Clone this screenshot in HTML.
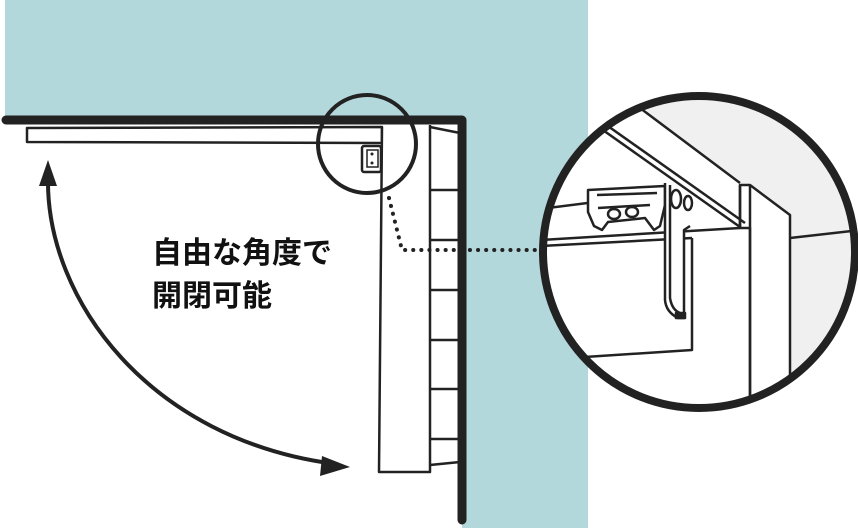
<!DOCTYPE html>
<html><head><meta charset="utf-8"><style>
html,body{margin:0;padding:0;background:#fff;}
svg{display:block;}
</style></head><body>
<svg width="858" height="528" viewBox="0 0 858 528" xmlns="http://www.w3.org/2000/svg">
<defs>
<clipPath id="cc"><circle cx="699" cy="252" r="156"/></clipPath>
</defs>
<rect x="5" y="0" width="583" height="118" fill="#b3d8db"/>
<rect x="462" y="0" width="126" height="528" fill="#b3d8db"/>
<polygon points="27,128 382,127 382,143 27,142" fill="#fff" stroke="#222" stroke-width="2.5" stroke-linejoin="round"/>
<polygon points="382,127 430,125 458,132 458,470 430,472 379,472" fill="#fff" stroke="none"/>
<path d="M382,127 L379,472 L430,472 L430,125" fill="none" stroke="#222" stroke-width="2.5" stroke-linejoin="round"/>
<g stroke="#222" stroke-width="2.5">
<line x1="430" y1="127" x2="460" y2="133"/>
<line x1="430" y1="190" x2="460" y2="190"/>
<line x1="430" y1="240" x2="460" y2="240"/>
<line x1="430" y1="290" x2="460" y2="290"/>
<line x1="430" y1="340" x2="460" y2="340"/>
<line x1="430" y1="389" x2="460" y2="389"/>
<line x1="430" y1="439" x2="460" y2="439"/>
<line x1="430" y1="465" x2="460" y2="462"/>
</g>
<rect x="362" y="146" width="19" height="26" rx="2" fill="#fff" stroke="#222" stroke-width="2.5"/>
<rect x="367" y="150" width="11" height="17" fill="none" stroke="#222" stroke-width="1.5"/>
<circle cx="372" cy="154" r="1.5" fill="#222"/><circle cx="372" cy="163" r="1.5" fill="#222"/>
<path d="M6,120 L462,120 L462,520" fill="none" stroke="#222" stroke-width="9" stroke-linecap="round" stroke-linejoin="round"/>
<circle cx="367" cy="144" r="49" fill="none" stroke="#222" stroke-width="4"/>
<path d="M389,198 L402,250 L540,250" fill="none" stroke="#222" stroke-width="4" stroke-dasharray="0.1 8" stroke-linecap="round"/>
<path d="M48,178 C46,300 150,440 335,464" fill="none" stroke="#222" stroke-width="4"/>
<polygon points="48,160 39,186 57,186" fill="#222"/>
<polygon points="350,467 322,456 320,476" fill="#222"/>
<text x="152" y="263" font-family="'Liberation Sans','Noto Sans CJK JP',sans-serif" font-size="30" font-weight="bold" fill="#111">自由な角度で</text>
<text x="152" y="306" font-family="'Liberation Sans','Noto Sans CJK JP',sans-serif" font-size="30" font-weight="bold" fill="#111">開閉可能</text>
<circle cx="699" cy="252" r="156" fill="#fff"/>
<g clip-path="url(#cc)" stroke="#222" stroke-width="2.5" fill="none" stroke-linejoin="round">
<polygon points="647,90 647,113 740,183 750,185 790,215 790,420 880,420 880,90" fill="#f0f0f0" stroke="none"/>
<line x1="640" y1="108" x2="740" y2="183"/>
<line x1="790" y1="238" x2="860" y2="230"/>
<polygon points="740,185 750,185 790,215 790,420 750,420 750,228 740,228" fill="#fff"/>
<line x1="750" y1="185" x2="750" y2="420"/>
<line x1="740" y1="185" x2="740" y2="228"/>
<polygon points="540,248 540,208 667,193 740,228 692,240 692,350 590,357 540,360" fill="#fff" stroke="none"/>
<line x1="540" y1="209" x2="667" y2="193"/>
<line x1="600" y1="128" x2="740" y2="227"/>
<line x1="605" y1="124" x2="745" y2="223"/>
<line x1="540" y1="240" x2="740" y2="228"/>
<line x1="540" y1="246" x2="692" y2="238"/>
<path d="M692,238 L692,350 L540,360"/>
<path d="M588,190 L665,186 L665,205 L660,226 L654,230 L645,218 L608,222 L602,230 L594,226 L588,212 Z" fill="#fff"/>
<path d="M597,195 L657,193"/>
<path d="M598,208 L650,205"/>
<ellipse cx="614" cy="214" rx="6" ry="5"/>
<ellipse cx="632" cy="212" rx="6" ry="5"/>
<path d="M665,183 L665,300 Q666,312 678,318 L684,318 L684,230 L690,226" fill="#fff"/>
<path d="M670,185 L670,298 Q672,310 680,313"/>
<ellipse cx="676" cy="199" rx="5" ry="9" fill="#fff"/>
<ellipse cx="688" cy="203" rx="4" ry="7" fill="#fff"/>
<rect x="676" y="313" width="9" height="5" fill="#222"/>
</g>
<circle cx="699" cy="252" r="156" fill="none" stroke="#222" stroke-width="8"/>
</svg>
</body></html>
